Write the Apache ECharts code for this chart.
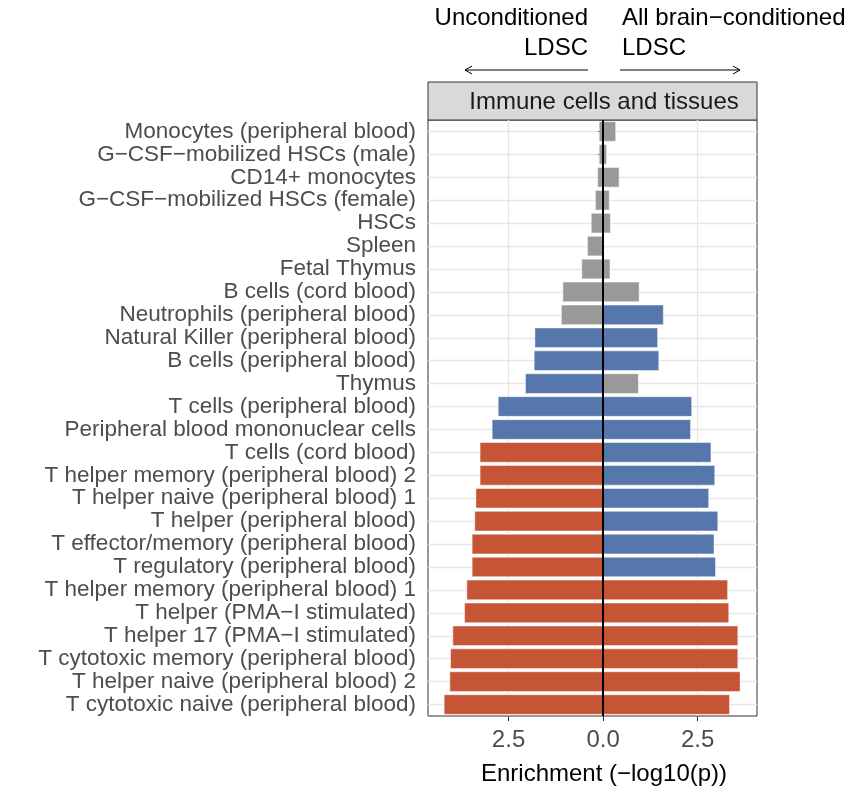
<!DOCTYPE html>
<html>
<head>
<meta charset="utf-8">
<title></title>
<style>
  html, body { margin:0; padding:0; background:#fff; }
  #main { width:867px; height:791px; }
</style>
<script src="https://cdn.jsdelivr.net/npm/echarts@6/dist/echarts.min.js"></script>
</head>
<body>
<div id="main"></div>
<script>
// categories top to bottom
var categories = [
  'Monocytes (peripheral blood)', 'G\u2212CSF\u2212mobilized HSCs (male)', 'CD14+ monocytes',
  'G\u2212CSF\u2212mobilized HSCs (female)', 'HSCs', 'Spleen', 'Fetal Thymus', 'B cells (cord blood)',
  'Neutrophils (peripheral blood)', 'Natural Killer (peripheral blood)', 'B cells (peripheral blood)',
  'Thymus', 'T cells (peripheral blood)', 'Peripheral blood mononuclear cells', 'T cells (cord blood)',
  'T helper memory (peripheral blood) 2', 'T helper naive (peripheral blood) 1', 'T helper (peripheral blood)',
  'T effector/memory (peripheral blood)', 'T regulatory (peripheral blood)', 'T helper memory (peripheral blood) 1',
  'T helper (PMA\u2212I stimulated)', 'T helper 17 (PMA\u2212I stimulated)', 'T cytotoxic memory (peripheral blood)',
  'T helper naive (peripheral blood) 2', 'T cytotoxic naive (peripheral blood)'
];
// unconditioned LDSC (drawn to the left)
var uncond = [0.11, 0.11, 0.15, 0.21, 0.32, 0.42, 0.57, 1.07, 1.11, 1.81, 1.83, 2.06, 2.78,
  2.94, 3.26, 3.26, 3.37, 3.40, 3.47, 3.47, 3.61, 3.67, 3.98, 4.04, 4.06, 4.21];
// 0 = not significant, 1 = significant, 2 = highly significant
var uncondLevel = [0,0,0,0,0,0,0,0,0,1,1,1,1,1,2,2,2,2,2,2,2,2,2,2,2,2];
// all brain-conditioned LDSC (drawn to the right)
var cond = [0.34, 0.10, 0.43, 0.17, 0.20, 0.02, 0.19, 0.96, 1.60, 1.45, 1.48, 0.94, 2.35,
  2.32, 2.86, 2.96, 2.80, 3.04, 2.94, 2.98, 3.30, 3.33, 3.57, 3.57, 3.63, 3.35];
var condLevel = [0,0,0,0,0,0,0,0,1,1,1,0,1,1,1,1,1,1,1,1,2,2,2,2,2,2];
var xTicks = [-2.5, 0, 2.5];

var palette = ['#999999', '#5577ab', '#c65536'];
var font = 'Liberation Sans';

function bars(vals, lv, sign) {
  return vals.map(function (v, i) {
    return { value: sign * v, itemStyle: { color: palette[lv[i]] } };
  });
}

var chart = echarts.init(document.getElementById('main'));
chart.setOption({
  animation: false,
  textStyle: { fontFamily: font },
  grid: { left: 428, right: 110, top: 120, bottom: 71, show: true, borderColor: '#333', borderWidth: 1 },
  xAxis: {
    type: 'value', min: -4.63, max: 4.07,
    name: 'Enrichment (\u2212log10(p))', nameLocation: 'middle', nameGap: 46,
    nameTextStyle: { fontSize: 24, color: '#000', fontFamily: font, padding: [0, 0, 0, 23] },
    axisLine: { show: false },
    axisTick: { show: true, customValues: xTicks, length: 5, lineStyle: { color: '#333' } },
    axisLabel: { customValues: xTicks, fontSize: 24, color: '#4d4d4d', margin: 12,
      formatter: function (v) { return Math.abs(v).toFixed(1); } },
    splitLine: { show: false }
  },
  yAxis: {
    type: 'category', data: categories, inverse: true,
    axisLine: { show: false },
    axisTick: { show: true, alignWithLabel: true, interval: 0, length: 5, lineStyle: { color: '#333' } },
    axisLabel: { interval: 0, fontSize: 22.5, color: '#4d4d4d', margin: 12 },
    splitLine: { show: false }
  },
  graphic: [
    { type: 'rect', shape: { x: 428, y: 82, width: 329, height: 38 },
      style: { fill: '#d9d9d9', stroke: '#333', lineWidth: 1 } },
    { type: 'text', x: 604, y: 102, style: { text: 'Immune cells and tissues', font: '24px ' + font,
      fill: '#1a1a1a', align: 'center', verticalAlign: 'middle' } },
    { type: 'text', x: 588, y: 3, style: { text: 'Unconditioned\nLDSC', font: '24px ' + font,
      fill: '#000', align: 'right', lineHeight: 30 } },
    { type: 'text', x: 622, y: 3, style: { text: 'All brain\u2212conditioned\nLDSC', font: '24px ' + font,
      fill: '#000', align: 'left', lineHeight: 30 } },
    { type: 'line', shape: { x1: 588, y1: 70, x2: 465, y2: 70 }, style: { stroke: '#000', lineWidth: 1 } },
    { type: 'polyline', shape: { points: [[472, 66], [465, 70], [472, 74]] }, style: { stroke: '#000', fill: null, lineWidth: 1 } },
    { type: 'line', shape: { x1: 620, y1: 70, x2: 740, y2: 70 }, style: { stroke: '#000', lineWidth: 1 } },
    { type: 'polyline', shape: { points: [[733, 66], [740, 70], [733, 74]] }, style: { stroke: '#000', fill: null, lineWidth: 1 } }
  ],
  series: [
    { type: 'line', data: [], z: 0, silent: true,
      markLine: { silent: true, z: 0, symbol: 'none', label: { show: false }, animation: false,
        lineStyle: { color: '#e6e6e6', width: 1.3, type: 'solid' },
        data: categories.map(function (c) { return { yAxis: c }; })
          .concat([{ xAxis: -2.5 }, { xAxis: 2.5 }]) } },
    { type: 'bar', name: 'Unconditioned', data: bars(uncond, uncondLevel, -1), barWidth: '88%', z: 3,
      itemStyle: { borderColor: '#fff', borderWidth: 0.5 } },
    { type: 'bar', name: 'Conditioned', data: bars(cond, condLevel, 1), barWidth: '88%', barGap: '-100%', z: 3,
      itemStyle: { borderColor: '#fff', borderWidth: 0.5 },
      markLine: { silent: true, z: 6, symbol: 'none', label: { show: false }, animation: false,
        lineStyle: { color: '#000', width: 2, type: 'solid' }, data: [{ xAxis: 0 }] } }
  ]
});
</script>
</body>
</html>
